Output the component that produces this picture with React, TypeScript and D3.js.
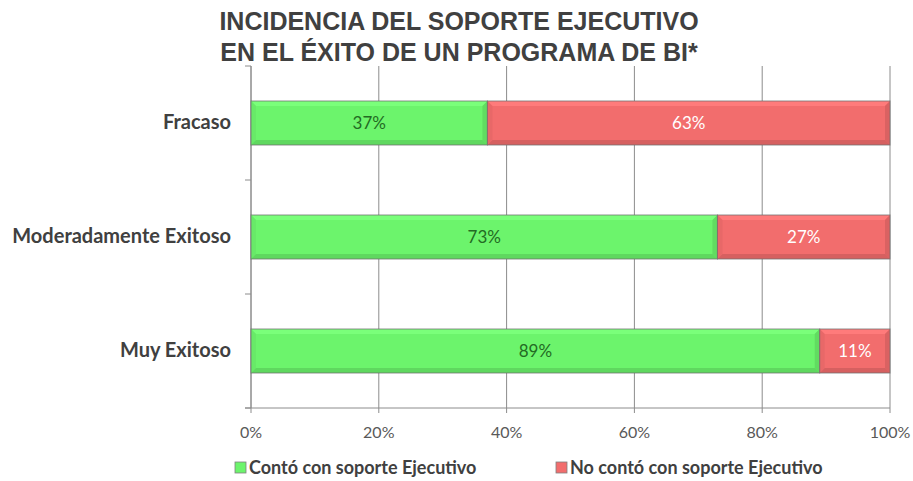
import React from "react";
import * as d3 from "d3";

const categories = ["Fracaso", "Moderadamente Exitoso", "Muy Exitoso"];
const withSupport = [37, 73, 89];
const withoutSupport = [63, 27, 11];
const seriesNames = ["Contó con soporte Ejecutivo", "No contó con soporte Ejecutivo"];
const xTicks = [0, 20, 40, 60, 80, 100];
const titleLines = ["INCIDENCIA DEL SOPORTE EJECUTIVO", "EN EL ÉXITO DE UN PROGRAMA DE BI*"];

const W = 913;
const H = 481;
const left = 251;
const right = 890;
const top = 66;
const bottom = 408;

const GREEN = "#6cf46c";
const RED = "#f26d6d";
const FONT = "Lato, 'Open Sans', sans-serif";

function Bevel({ x, y, w, h, fill }: { x: number; y: number; w: number; h: number; fill: string }) {
  const b = Math.min(5, w / 3);
  const c = d3.color(fill)!;
  const light = c.brighter(0.35).formatHex();
  const dark = c.darker(0.5).formatHex();
  const mid = c.darker(0.2).formatHex();
  return (
    <g>
      <rect x={x} y={y} width={w} height={h} fill={fill} />
      <polygon points={`${x},${y} ${x + w},${y} ${x + w - b},${y + b} ${x + b},${y + b}`} fill={light} />
      <polygon points={`${x},${y + h} ${x + w},${y + h} ${x + w - b},${y + h - b} ${x + b},${y + h - b}`} fill={dark} opacity={0.7} />
      <polygon points={`${x},${y} ${x + b},${y + b} ${x + b},${y + h - b} ${x},${y + h}`} fill={mid} opacity={0.6} />
      <polygon points={`${x + w},${y} ${x + w - b},${y + b} ${x + w - b},${y + h - b} ${x + w},${y + h}`} fill={dark} opacity={0.6} />
      <rect x={x} y={y} width={w} height={h} fill="none" stroke="#6e6e6e" strokeOpacity={0.75} strokeWidth={1} />
    </g>
  );
}

export default function App() {
  const x = d3.scaleLinear().domain([0, 100]).range([left, right]);
  const y = d3.scaleBand().domain(categories).range([top, bottom]).paddingInner(0.614).paddingOuter(0.307);
  const bandStep = (bottom - top) / categories.length;
  const bh = y.bandwidth();

  return (
    <svg width={W} height={H} style={{ position: "absolute", left: 0, top: 0, background: "#fff" }}>
      {titleLines.map((t, i) => (
        <text key={i} x={459} y={30 + i * 31} textAnchor="middle" fontFamily="'Liberation Sans', Arial, sans-serif"
          fontWeight="bold" fontSize={25} fill="#404040">{t}</text>
      ))}
      {/* gridlines */}
      {xTicks.map((t) => (
        <line key={t} x1={x(t)} x2={x(t)} y1={top} y2={bottom} stroke="#8c8c8c" strokeWidth={1} />
      ))}
      {/* left axis */}
      <line x1={left} x2={left} y1={top} y2={bottom} stroke="#8c8c8c" />
      {d3.range(categories.length + 1).map((i) => (
        <line key={i} x1={left - 6} x2={left} y1={top + i * bandStep} y2={top + i * bandStep} stroke="#8c8c8c" />
      ))}
      {/* bottom axis */}
      <line x1={left - 6} x2={right} y1={bottom} y2={bottom} stroke="#8c8c8c" />
      {xTicks.map((t) => (
        <g key={t}>
          <line x1={x(t)} x2={x(t)} y1={bottom} y2={bottom + 5} stroke="#8c8c8c" />
          <text x={x(t)} y={438} textAnchor="middle" fontFamily={FONT} fontSize={16} fill="#595959">{t}%</text>
        </g>
      ))}
      {/* bars */}
      {categories.map((c, i) => {
        const yy = y(c)!;
        const g = withSupport[i];
        const r = withoutSupport[i];
        return (
          <g key={c}>
            <Bevel x={x(0)} y={yy} w={x(g) - x(0)} h={bh} fill={GREEN} />
            <Bevel x={x(g)} y={yy} w={x(g + r) - x(g)} h={bh} fill={RED} />
            <text x={(x(0) + x(g)) / 2} y={yy + bh / 2 + 6} textAnchor="middle" fontFamily={FONT} fontSize={17} fill="#236b23">{g}%</text>
            <text x={(x(g) + x(g + r)) / 2} y={yy + bh / 2 + 6} textAnchor="middle" fontFamily={FONT} fontSize={17} fill="#ffffff">{r}%</text>
            <text x={231} y={yy + bh / 2 + 6} textAnchor="end" fontFamily={FONT} fontWeight="bold" fontSize={20} fill="#404040">{c}</text>
          </g>
        );
      })}
      {/* legend */}
      {seriesNames.map((s, i) => {
        const lx = i === 0 ? 235 : 556;
        return (
          <g key={s}>
            <rect x={lx} y={462} width={11} height={11} fill={i === 0 ? GREEN : RED} stroke="#808080" strokeWidth={0.8} />
            <text x={lx + 14} y={474} fontFamily={FONT} fontWeight="bold" fontSize={18} fill="#404040">{s}</text>
          </g>
        );
      })}
    </svg>
  );
}
